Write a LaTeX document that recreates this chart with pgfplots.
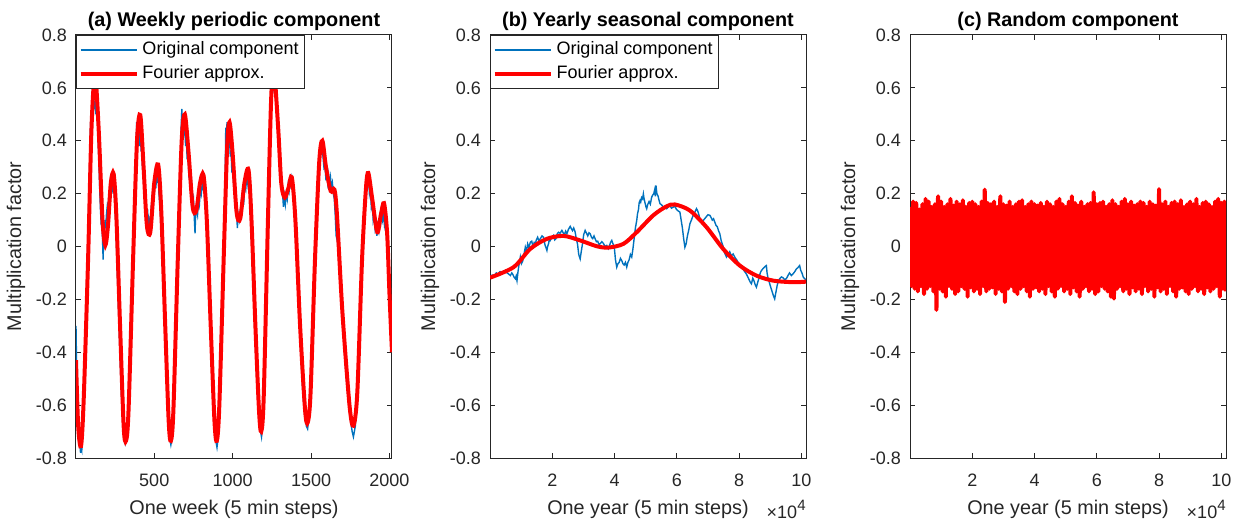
\documentclass[border=0pt]{standalone}
\usepackage{fontspec}
\setmainfont{Liberation Sans}
\usepackage{pgfplots}
\pgfplotsset{compat=1.18}
\definecolor{mgray}{RGB}{38,38,38}
\definecolor{mblue}{RGB}{0,114,189}
\pgfplotsset{
  mat/.style={
    scale only axis, width=158pt, height=211.5pt,
    ymin=-0.8, ymax=0.8,
    ytick={-0.8,-0.6,-0.4,-0.2,0,0.2,0.4,0.6,0.8},
    yticklabels={-0.8,-0.6,-0.4,-0.2,0,0.2,0.4,0.6,0.8},
    scaled x ticks=false,
    axis line style={draw=mgray, line width=0.5pt},
    every tick/.style={draw=mgray, line width=0.5pt},
    major tick length=2.5pt,
    tick align=inside,
    ticklabel style={text=mgray, font=\fontsize{9}{10.8}\selectfont},
    xticklabel style={anchor=base, yshift=-14.3pt},
    yticklabel style={anchor=east, xshift=-1pt},
    ylabel={Multiplication factor},
    ylabel style={at={(axis description cs:-0.174,0.5)}, anchor=base, text=mgray, font=\fontsize{9.9}{11.8}\selectfont},
    xlabel style={at={(axis description cs:0.5,0)}, anchor=base, yshift=-28pt, text=mgray, font=\fontsize{9.9}{11.8}\selectfont},
    every axis title shift=0pt,
    title style={at={(axis description cs:0.5,1)}, anchor=base, yshift=4pt, font=\fontsize{9.9}{11.8}\selectfont\bfseries},
    legend style={at={(0,1)}, anchor=north west, draw=mgray, line width=0.5pt, fill=white,
      inner xsep=1pt, inner ysep=1.2pt, row sep=0pt, text=black, font=\fontsize{9}{10.8}\selectfont},
    legend cell align=left,
    legend image code/.code={\draw[#1] (0pt,0pt) -- (28pt,0pt);},
  }
}
\begin{document}
\begin{tikzpicture}[font=\fontsize{9}{10.8}\selectfont]
\path[use as bounding box] (0,0) rectangle (622pt,262.5pt);
% ---------------- (a)
\begin{axis}[mat, at={(38pt,33.5pt)}, anchor=south west,
  xmin=1, xmax=2016,
  xtick={500,1000,1500,2000}, xticklabels={500,1000,1500,2000},
  xlabel={One week (5 min steps)},
  title={(a) Weekly periodic component}]
\addplot[draw=mblue, line width=0.7pt] coordinates {
(1,-0.30)(4,-0.42)(8,-0.55)(14,-0.66)(20,-0.72)(26,-0.75)(30,-0.78)(34,-0.76)(38,-0.77)(42,-0.70)(48,-0.60)(55,-0.45)(62,-0.30)(70,-0.12)(78,0.05)(85,0.22)(90,0.35)(94,0.47)(97,0.44)(100,0.50)(103,0.48)(106,0.53)(110,0.51)(114,0.56)(118,0.52)(122,0.55)(126,0.50)(130,0.57)(134,0.48)(138,0.50)(142,0.40)(147,0.33)(152,0.22)(157,0.14)(162,0.08)(166,0.12)(170,0.03)(174,-0.05)(178,0.06)(182,0.02)(186,0.10)(190,0.07)(195,0.12)(200,0.15)(205,0.13)(210,0.19)(214,0.16)(218,0.21)(222,0.18)(226,0.23)(230,0.20)(235,0.24)(240,0.22)(245,0.20)(250,0.14)(256,0.08)(262,-0.05)(270,-0.20)(280,-0.38)(290,-0.55)(300,-0.68)(308,-0.72)(314,-0.74)(318,-0.72)(322,-0.73)(328,-0.70)
(335,-0.62)(345,-0.45)(355,-0.25)(365,-0.05)(375,0.18)(383,0.35)(388,0.47)(392,0.40)(396,0.46)(400,0.42)(404,0.45)(408,0.38)(412,0.44)(416,0.36)(420,0.38)(425,0.30)(430,0.27)(436,0.20)(442,0.22)(448,0.12)(454,0.08)(458,0.14)(462,0.06)(468,0.10)(474,0.08)(480,0.14)(486,0.18)(490,0.16)(495,0.22)(500,0.20)(505,0.25)(510,0.22)(516,0.28)(520,0.24)(525,0.27)(530,0.20)(538,0.14)(548,0.02)(558,-0.15)(570,-0.33)(582,-0.55)(592,-0.68)(600,-0.73)(606,-0.75)(612,-0.73)(620,-0.65)
(630,-0.48)(640,-0.28)(650,-0.08)(660,0.15)(668,0.32)(672,0.46)(676,0.52)(680,0.45)(685,0.48)(690,0.42)(695,0.44)(700,0.38)(705,0.40)(710,0.33)(715,0.36)(720,0.28)(726,0.30)(732,0.22)(738,0.24)(744,0.16)(750,0.18)(756,0.10)(760,0.05)(764,0.12)(770,0.14)(776,0.12)(782,0.18)(788,0.16)(794,0.22)(800,0.20)(806,0.24)(812,0.22)(818,0.24)(824,0.18)(832,0.10)(842,-0.05)(852,-0.22)(864,-0.42)(876,-0.60)(886,-0.70)(894,-0.74)(900,-0.76)(906,-0.73)(914,-0.62)
(925,-0.40)(935,-0.18)(945,0.02)(952,0.25)(956,0.45)(960,0.40)(964,0.47)(968,0.42)(972,0.44)(976,0.38)(980,0.41)(985,0.34)(990,0.36)(995,0.28)(1000,0.30)(1006,0.24)(1012,0.26)(1018,0.18)(1024,0.14)(1030,0.07)(1036,0.12)(1042,0.10)(1048,0.13)(1054,0.16)(1060,0.14)(1066,0.20)(1072,0.18)(1078,0.24)(1084,0.22)(1090,0.27)(1096,0.24)(1102,0.28)(1108,0.22)(1115,0.12)(1125,-0.05)(1135,-0.22)(1148,-0.42)(1160,-0.58)(1170,-0.66)(1178,-0.70)(1184,-0.72)(1190,-0.68)(1198,-0.58)
(1208,-0.40)(1218,-0.15)(1228,0.10)(1238,0.35)(1246,0.55)(1252,0.62)(1258,0.60)(1264,0.64)(1270,0.58)(1276,0.60)(1282,0.52)(1288,0.48)(1294,0.40)(1300,0.36)(1306,0.30)(1312,0.26)(1318,0.20)(1324,0.15)(1330,0.19)(1336,0.16)(1342,0.20)(1348,0.18)(1354,0.23)(1360,0.21)(1366,0.25)(1372,0.23)(1378,0.26)(1384,0.24)(1390,0.20)(1398,0.12)(1408,-0.02)(1420,-0.20)(1434,-0.40)(1448,-0.56)(1460,-0.64)(1470,-0.68)(1478,-0.69)(1484,-0.66)(1492,-0.58)
(1505,-0.40)(1515,-0.22)(1525,-0.03)(1535,0.15)(1545,0.28)(1552,0.33)(1558,0.36)(1564,0.38)(1570,0.36)(1576,0.34)(1582,0.30)(1588,0.31)(1594,0.26)(1600,0.27)(1606,0.24)(1612,0.27)(1618,0.23)(1624,0.26)(1630,0.22)(1636,0.24)(1642,0.20)(1648,0.18)(1654,0.12)(1660,0.04)(1668,0.02)(1676,-0.05)(1690,-0.18)(1705,-0.32)(1720,-0.46)(1735,-0.57)(1750,-0.65)(1762,-0.70)(1770,-0.72)(1776,-0.70)(1782,-0.68)(1790,-0.60)
(1805,-0.40)(1818,-0.18)(1830,0.00)(1840,0.14)(1848,0.22)(1855,0.26)(1860,0.24)(1866,0.27)(1872,0.20)(1878,0.22)(1884,0.15)(1890,0.17)(1896,0.10)(1902,0.12)(1908,0.07)(1914,0.09)(1920,0.04)(1926,0.08)(1932,0.06)(1938,0.11)(1944,0.09)(1950,0.13)(1956,0.10)(1962,0.12)(1968,0.08)(1974,0.10)(1980,0.05)(1990,-0.05)(2000,-0.18)(2010,-0.32)(2016,-0.40)
};
\addlegendentry{Original component}
\addplot[draw=red, line width=2pt, smooth] coordinates {
(1,-0.43)(15,-0.68)(33,-0.755)(50,-0.58)(78,-0.05)(100,0.45)(122,0.65)(145,0.45)(170,0.10)(188,0.005)(205,0.08)(223,0.24)(241,0.275)(258,0.12)(282,-0.30)(305,-0.68)(320,-0.735)(336,-0.62)(365,-0.05)(390,0.40)(411,0.497)(432,0.30)(453,0.08)(475,0.055)(500,0.24)(525,0.31)(545,0.13)(570,-0.30)(592,-0.66)(606,-0.735)(622,-0.62)(650,-0.05)(675,0.40)(695,0.50)(718,0.36)(745,0.15)(768,0.135)(792,0.24)(814,0.27)(835,0.10)(860,-0.30)(884,-0.66)(899,-0.735)(915,-0.60)(945,0.00)(965,0.38)(980,0.47)(1000,0.35)(1025,0.13)(1048,0.105)(1075,0.24)(1101,0.29)(1120,0.10)(1145,-0.30)(1168,-0.62)(1182,-0.70)(1198,-0.57)(1225,0.10)(1245,0.55)(1262,0.68)(1290,0.45)(1310,0.24)(1332,0.185)(1355,0.22)(1377,0.262)(1400,0.10)(1430,-0.30)(1462,-0.62)(1479,-0.665)(1497,-0.55)(1525,-0.05)(1552,0.32)(1572,0.40)(1595,0.30)(1625,0.21)(1649,0.215)(1665,0.12)(1700,-0.25)(1745,-0.60)(1770,-0.678)(1795,-0.55)(1825,-0.05)(1850,0.22)(1865,0.278)(1890,0.18)(1922,0.054)(1945,0.12)(1965,0.164)(1985,0.05)(2000,-0.18)(2016,-0.40)
};
\addlegendentry{Fourier approx.}
\end{axis}
% ---------------- (b)
\begin{axis}[mat, at={(245pt,33.5pt)}, anchor=south west,
  xmin=0, xmax=101500,
  xtick={20000,40000,60000,80000,100000}, xticklabels={2,4,6,8,10},
  xlabel={One year (5 min steps)},
  title={(b) Yearly seasonal component}]
\addplot[draw=mblue, line width=0.7pt] coordinates {
(0,-0.115)(700,-0.108)(1410,-0.110)(2000,-0.100)(2500,-0.105)(3200,-0.095)(4400,-0.097)(5000,-0.090)(5500,-0.100)(6000,-0.104)(6540,-0.110)(7000,-0.100)(7300,-0.105)(7700,-0.115)(8140,-0.122)(8400,-0.112)(8670,-0.129)(9000,-0.095)(9300,-0.070)(9740,-0.040)(10100,-0.065)(10500,-0.055)(10900,-0.030)(11340,-0.003)(11700,-0.020)(12100,0.010)(12500,-0.005)(12940,0.016)(13400,0.020)(13800,0.000)(14200,0.015)(14540,0.010)(14900,0.025)(15300,0.035)(15700,0.022)(16150,0.029)(16700,0.040)(17210,0.035)(17500,0.015)(17700,0.005)(18000,-0.005)(18280,-0.015)(18500,0.000)(18800,0.010)(19100,0.030)(19350,0.023)(19900,0.035)(20420,0.042)(20800,0.025)(21200,0.030)(21600,0.048)(22020,0.054)(22500,0.050)(23090,0.061)(23500,0.052)(23900,0.045)(24300,0.058)(24690,0.048)(25200,0.065)(25760,0.076)(26100,0.068)(26500,0.060)(26900,0.070)(27360,0.054)(27700,0.030)(28100,0.010)(28500,-0.030)(28960,-0.047)(29300,-0.020)(29700,0.010)(30100,0.045)(30560,0.061)(31000,0.050)(31400,0.040)(31800,0.052)(32170,0.048)(32600,0.035)(33000,0.030)(33400,0.040)(33770,0.029)(34200,0.018)(34600,0.020)(35000,0.008)(35370,0.010)(35900,0.018)(36400,0.012)(37000,0.000)(37510,0.004)(38000,-0.008)(38300,0.000)(38700,0.015)(39110,0.023)(39500,0.010)(39900,0.000)(40300,-0.050)(40710,-0.078)(41100,-0.065)(41500,-0.060)(41900,-0.045)(42310,-0.053)(42700,-0.065)(43100,-0.070)(43500,-0.060)(43920,-0.078)(44300,-0.060)(44700,-0.050)(45100,-0.030)(45520,-0.040)(45900,-0.010)(46300,0.030)(46700,0.070)(47120,0.098)(47400,0.125)(47700,0.140)(47900,0.165)(48190,0.174)(48400,0.168)(48700,0.185)(49000,0.180)(49260,0.199)(49500,0.180)(49800,0.165)(50100,0.150)(50330,0.143)(50700,0.160)(51100,0.170)(51500,0.160)(51930,0.187)(52300,0.195)(52600,0.200)(52900,0.215)(53100,0.190)(53310,0.231)(53600,0.200)(54000,0.190)(54300,0.175)(54600,0.162)(55100,0.158)(55600,0.150)(56200,0.148)(56730,0.143)(57300,0.150)(57800,0.155)(58300,0.145)(58870,0.149)(59400,0.152)(59900,0.140)(60400,0.135)(61000,0.130)(61400,0.100)(61800,0.070)(62200,0.030)(62600,-0.003)(63000,0.010)(63400,0.040)(63800,0.060)(64210,0.086)(64700,0.100)(65300,0.120)(65800,0.130)(66340,0.143)(66700,0.135)(67100,0.120)(67500,0.100)(67940,0.092)(68600,0.100)(69300,0.110)(70000,0.120)(70610,0.118)(71000,0.110)(71400,0.100)(71800,0.105)(72220,0.092)(72600,0.080)(73000,0.075)(73400,0.060)(73820,0.048)(74300,0.020)(74900,0.000)(75400,-0.025)(75960,-0.040)(76500,-0.030)(77000,-0.020)(77500,-0.035)(78090,-0.028)(78600,-0.040)(79200,-0.050)(79700,-0.060)(80230,-0.072)(80800,-0.080)(81300,-0.085)(81800,-0.095)(82360,-0.104)(82800,-0.115)(83200,-0.125)(83600,-0.135)(83970,-0.141)(84400,-0.120)(84800,-0.130)(85200,-0.145)(85570,-0.154)(86000,-0.135)(86400,-0.120)(86800,-0.100)(87170,-0.091)(87600,-0.085)(88000,-0.080)(88400,-0.075)(88770,-0.072)(89000,-0.100)(89300,-0.120)(89600,-0.130)(89840,-0.141)(90200,-0.155)(90600,-0.170)(91000,-0.185)(91440,-0.198)(91800,-0.175)(92200,-0.150)(92600,-0.130)(93040,-0.122)(93600,-0.115)(94100,-0.118)(94600,-0.125)(95180,-0.122)(95700,-0.110)(96200,-0.100)(96800,-0.110)(97310,-0.104)(97900,-0.095)(98400,-0.085)(98900,-0.080)(99450,-0.072)(99800,-0.090)(100200,-0.100)(100600,-0.115)(101050,-0.122)(101500,-0.125)
};
\addlegendentry{Original component}
\addplot[draw=red, line width=2pt, smooth] coordinates {
(0,-0.118)(7600,-0.078)(12940,-0.009)(18280,0.029)(23620,0.040)(28960,0.023)(34300,0.001)(38040,-0.004)(42850,0.010)(47120,0.054)(52460,0.118)(56730,0.152)(59400,0.159)(64210,0.136)(69550,0.073)(74890,-0.009)(80230,-0.072)(85570,-0.110)(90910,-0.129)(97310,-0.135)(101500,-0.133)
};
\addlegendentry{Fourier approx.}
\end{axis}
% ---------------- (c)
\begin{axis}[mat, at={(455pt,33.5pt)}, anchor=south west,
  xmin=0, xmax=101500,
  xtick={20000,40000,60000,80000,100000}, xticklabels={2,4,6,8,10},
  xlabel={One year (5 min steps)},
  title={(c) Random component}]
\addplot[draw=red, line width=2pt, line join=round] coordinates {
(0,0.15)(500,-0.15)(1000,0.17)(1500,-0.16)(2000,0.165)(2500,-0.17)(3000,0.14)(3500,-0.15)(4000,0.16)(4500,-0.18)(5000,0.18)(5500,-0.16)(6000,0.17)(6500,-0.15)(7000,0.15)(7500,-0.17)(8000,0.16)(8500,-0.24)(9000,0.19)(9500,-0.16)
(10000,0.17)(10500,-0.17)(11000,0.15)(11500,-0.19)(12000,0.16)(12500,-0.15)(13000,0.18)(13500,-0.16)(14000,0.155)(14500,-0.18)(15000,0.17)(15500,-0.17)(16000,0.16)(16500,-0.15)(17000,0.175)(17500,-0.16)(18000,0.15)(18500,-0.19)(19000,0.165)(19500,-0.155)
(20000,0.17)(20500,-0.17)(21000,0.16)(21500,-0.16)(22000,0.15)(22500,-0.18)(23000,0.17)(23500,-0.15)(24000,0.215)(24500,-0.17)(25000,0.165)(25500,-0.16)(26000,0.16)(26500,-0.155)(27000,0.17)(27500,-0.18)(28000,0.15)(28500,-0.16)(29000,0.19)(29500,-0.17)
(30000,0.16)(30500,-0.21)(31000,0.155)(31500,-0.16)(32000,0.17)(32500,-0.15)(33000,0.15)(33500,-0.17)(34000,0.16)(34500,-0.18)(35000,0.17)(35500,-0.16)(36000,0.175)(36500,-0.15)(37000,0.15)(37500,-0.17)(38000,0.16)(38500,-0.19)(39000,0.17)(39500,-0.16)
(40000,0.16)(40500,-0.155)(41000,0.155)(41500,-0.17)(42000,0.165)(42500,-0.16)(43000,0.15)(43500,-0.18)(44000,0.17)(44500,-0.15)(45000,0.16)(45500,-0.17)(46000,0.15)(46500,-0.19)(47000,0.17)(47500,-0.16)(48000,0.18)(48500,-0.15)(49000,0.16)(49500,-0.17)
(50000,0.15)(50500,-0.16)(51000,0.17)(51500,-0.18)(52000,0.19)(52500,-0.155)(53000,0.165)(53500,-0.17)(54000,0.155)(54500,-0.19)(55000,0.17)(55500,-0.16)(56000,0.15)(56500,-0.15)(57000,0.16)(57500,-0.17)(58000,0.165)(58500,-0.16)(59000,0.205)(59500,-0.18)
(60000,0.16)(60500,-0.17)(61000,0.165)(61500,-0.15)(62000,0.17)(62500,-0.16)(63000,0.15)(63500,-0.17)(64000,0.16)(64500,-0.19)(65000,0.175)(65500,-0.197)(66000,0.16)(66500,-0.16)(67000,0.15)(67500,-0.15)(68000,0.17)(68500,-0.17)(69000,0.18)(69500,-0.16)
(70000,0.16)(70500,-0.18)(71000,0.17)(71500,-0.155)(72000,0.155)(72500,-0.17)(73000,0.16)(73500,-0.16)(74000,0.17)(74500,-0.18)(75000,0.165)(75500,-0.15)(76000,0.15)(76500,-0.17)(77000,0.17)(77500,-0.16)(78000,0.16)(78500,-0.19)(79000,0.155)(79500,-0.155)
(80000,0.217)(80500,-0.17)(81000,0.16)(81500,-0.16)(82000,0.17)(82500,-0.18)(83000,0.15)(83500,-0.15)(84000,0.165)(84500,-0.17)(85000,0.17)(85500,-0.19)(86000,0.16)(86500,-0.16)(87000,0.175)(87500,-0.155)(88000,0.15)(88500,-0.17)(89000,0.16)(89500,-0.18)
(90000,0.17)(90500,-0.16)(91000,0.16)(91500,-0.15)(92000,0.18)(92500,-0.17)(93000,0.15)(93500,-0.16)(94000,0.165)(94500,-0.18)(95000,0.17)(95500,-0.155)(96000,0.16)(96500,-0.17)(97000,0.15)(97500,-0.16)(98000,0.17)(98500,-0.15)(99000,0.18)(99500,-0.19)
(100000,0.165)(100500,-0.16)(101000,0.17)(101500,-0.17)
};
\end{axis}
% x10^4 labels
\node[anchor=base east, text=mgray, inner sep=0pt] at (245pt+158pt,3pt) {×10\raisebox{0.45em}{\fontsize{7.5}{8}\selectfont 4}};
\node[anchor=base east, text=mgray, inner sep=0pt] at (455pt+158pt,3pt) {×10\raisebox{0.45em}{\fontsize{7.5}{8}\selectfont 4}};
\end{tikzpicture}
\end{document}
